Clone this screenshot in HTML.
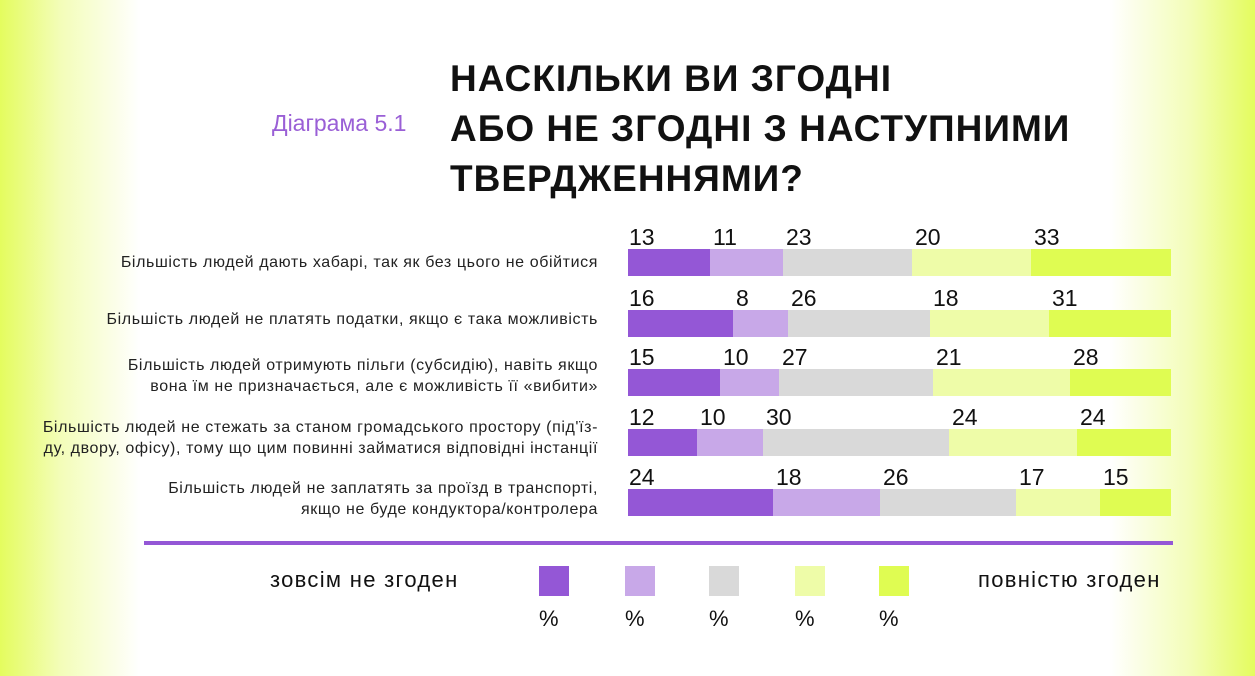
<!DOCTYPE html>
<html><head><meta charset="utf-8"><style>
body{margin:0;width:1255px;height:676px;position:relative;overflow:hidden;font-family:"Liberation Sans","DejaVu Sans",sans-serif;
background:linear-gradient(to right,#e4fc5e 0px,#f3fdb8 60px,#ffffff 140px,#ffffff 1110px,#f3fdb8 1190px,#e4fc5e 1255px);}
.a{position:absolute;white-space:nowrap}
.t{left:450px;font-weight:bold;font-size:37px;letter-spacing:1px;color:#111}
.lbl{right:657px;font-size:16px;letter-spacing:0.6px;color:#222;text-align:right;line-height:21px}
.seg{position:absolute;height:27px}
.n{position:absolute;font-size:23px;color:#111}
.sq{position:absolute;top:566px;width:30px;height:30px}
.p{position:absolute;top:606px;font-size:22px;color:#111}
.lg{position:absolute;top:567px;font-size:22px;letter-spacing:1.3px;color:#111}
</style></head><body>
<div class="a t" style="top:58px">НАСКІЛЬКИ ВИ ЗГОДНІ</div>
<div class="a t" style="top:108px">АБО НЕ ЗГОДНІ З НАСТУПНИМИ</div>
<div class="a t" style="top:158px">ТВЕРДЖЕННЯМИ?</div>
<div class="a" style="left:272px;top:110px;font-size:23px;color:#9a5fd6">Діаграма 5.1</div>

<div class="a lbl" style="top:252px">Більшість людей дають хабарі, так як без цього не обійтися</div>
<div class="a lbl" style="top:309px">Більшість людей не платять податки, якщо є така можливість</div>
<div class="a lbl" style="top:355px">Більшість людей отримують пільги (субсидію), навіть якщо<br>вона їм не призначається, але є можливість її «вибити»</div>
<div class="a lbl" style="top:417px">Більшість людей не стежать за станом громадського простору (під'їз-<br>ду, двору, офісу), тому що цим повинні займатися відповідні інстанції</div>
<div class="a lbl" style="top:478px">Більшість людей не заплатять за проїзд в транспорті,<br>якщо не буде кондуктора/контролера</div>

<div id="bars"></div>

<div class="a" style="left:144px;top:541px;width:1029px;height:4px;background:#9457d6"></div>
<div class="lg" style="left:270px">зовсім не згоден</div>
<div class="lg" style="left:978px">повністю згоден</div>
<div class="sq" style="left:539px;background:#9457d6"></div>
<div class="sq" style="left:625px;background:#c8a8e8"></div>
<div class="sq" style="left:709px;background:#d9d9d9"></div>
<div class="sq" style="left:795px;background:#eefca8"></div>
<div class="sq" style="left:879px;background:#dffc52"></div>
<div class="p" style="left:539px">%</div>
<div class="p" style="left:625px">%</div>
<div class="p" style="left:709px">%</div>
<div class="p" style="left:795px">%</div>
<div class="p" style="left:879px">%</div>

<script>
var cols=["#9457d6","#c8a8e8","#d9d9d9","#eefca8","#dffc52"];
var rows=[
 [249,[628,710,783,912,1031,1171],[13,11,23,20,33]],
 [310,[628,733,788,930,1049,1171],[16,8,26,18,31]],
 [369,[628,720,779,933,1070,1171],[15,10,27,21,28]],
 [429,[628,697,763,949,1077,1171],[12,10,30,24,24]],
 [489,[628,773,880,1016,1100,1171],[24,18,26,17,15]]];
var h="";
rows.forEach(function(r){
 for(var i=0;i<5;i++){
  var x=r[1][i],w=r[1][i+1]-x;
  h+='<div class="seg" style="left:'+x+'px;top:'+r[0]+'px;width:'+w+'px;background:'+cols[i]+'"></div>';
  h+='<div class="n" style="left:'+(x+(i==0?1:3))+'px;top:'+(r[0]-25)+'px">'+r[2][i]+'</div>';
 }
});
document.getElementById("bars").innerHTML=h;
</script>
</body></html>
